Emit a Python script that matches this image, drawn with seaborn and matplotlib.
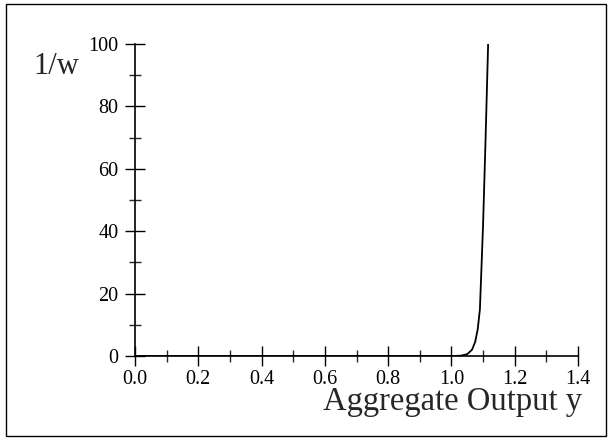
import matplotlib
matplotlib.use("Agg")
import matplotlib.pyplot as plt
import seaborn as sns
import pandas as pd
from matplotlib.patches import Rectangle
from matplotlib.ticker import MultipleLocator

# data
output_y = [0.0, 0.2, 0.4, 0.6, 0.8, 1.0, 1.03, 1.05, 1.065, 1.075, 1.083, 1.09, 1.10, 1.108, 1.116]
inv_w = [0.0, 0.0, 0.0, 0.0, 0.0, 0.0, 0.1, 0.6, 2.0, 4.5, 8.5, 15.0, 42.0, 70.0, 100.0]
x_ticks = [0.0, 0.2, 0.4, 0.6, 0.8, 1.0, 1.2, 1.4]
y_ticks = [0, 20, 40, 60, 80, 100]

df = pd.DataFrame({"y": output_y, "inv_w": inv_w})

sns.set_style("ticks")
plt.rcParams["font.family"] = ["Liberation Serif", "DejaVu Serif"]

fig = plt.figure(figsize=(6.12, 4.4), dpi=100)
ax = fig.add_axes([135/612, 1-356/440, (578-135)/612, (356-44)/440])

sns.lineplot(data=df, x="y", y="inv_w", ax=ax, color="black", linewidth=1.3, sort=False)

ax.set_xlim(0, 1.4)
ax.set_ylim(0, 100)
ax.set_xticks(x_ticks)
ax.set_xticklabels([f"{v:.1f}" for v in x_ticks])
ax.set_yticks(y_ticks)
ax.set_yticklabels([str(v) for v in y_ticks])
ax.xaxis.set_minor_locator(MultipleLocator(0.1))
ax.yaxis.set_minor_locator(MultipleLocator(10))
ax.tick_params(which="major", direction="inout", length=14, width=1.0, labelsize=14.5, colors="black", pad=5)
ax.tick_params(which="minor", direction="inout", length=9, width=1.0)
ax.tick_params(axis="x", which="major", pad=3)
for s in ["top", "right"]:
    ax.spines[s].set_visible(False)
for s in ["left", "bottom"]:
    ax.spines[s].set_linewidth(1.2)
    ax.spines[s].set_color("black")
ax.set_xlabel("")
ax.set_ylabel("")

fig.text(33/612, 1-74/440, "1/w", fontsize=22, ha="left", va="baseline")
fig.text(582/612, 1-410/440, "Aggregate Output y", fontsize=23.5, ha="right", va="baseline")

fig.patches.append(Rectangle((6/612, 4/440), 600/612, 432/440, transform=fig.transFigure,
                             fill=False, edgecolor="black", linewidth=1.0))

fig.savefig("out.png", dpi=100)
